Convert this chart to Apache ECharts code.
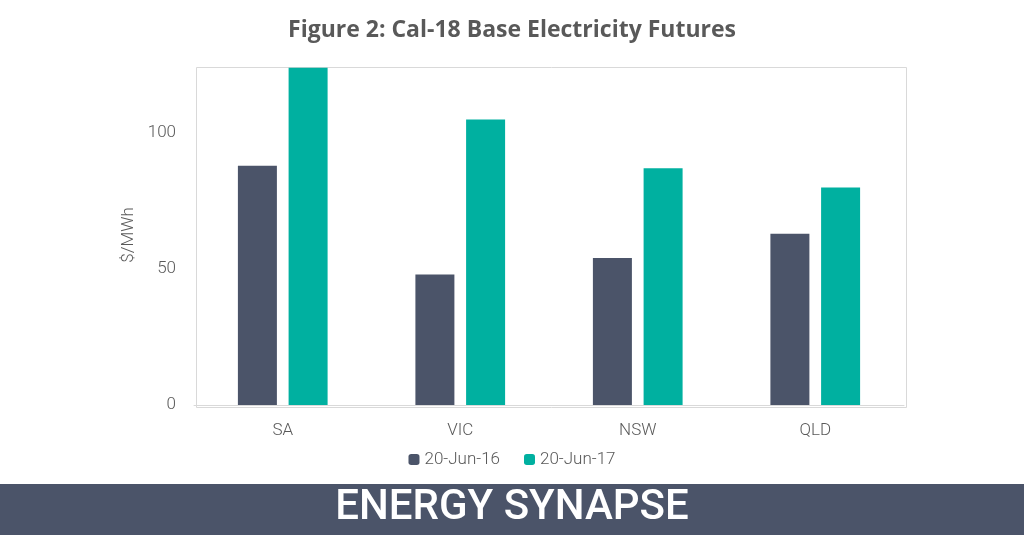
<!DOCTYPE html>
<html><head><meta charset="utf-8">
<script src="https://cdn.jsdelivr.net/npm/echarts@6/dist/echarts.min.js"></script>
<style>html,body{margin:0;padding:0;background:#fff}#c{width:1024px;height:535px}</style>
</head><body><div id="c"></div>
<script>
const categories = ['SA', 'VIC', 'NSW', 'QLD'];
const jun16 = [88, 48, 54, 63];
const jun17 = [124, 105, 87, 80];
const yTicks = [0, 50, 100];

const chart = echarts.init(document.getElementById('c'));
chart.setOption({
    animation: false,
    backgroundColor: '#fff',
    title: {
        text: 'Figure 2: Cal-18 Base Electricity Futures',
        left: 'center', top: 14,
        textStyle: { fontFamily: 'Open Sans', fontWeight: 'bold', fontSize: 23, color: '#595959' }
    },
    graphic: [
        { type: 'rect', left: 0, top: 484, shape: { width: 1024, height: 51 }, style: { fill: '#4b5469' } },
        { type: 'text', left: 'center', top: 487, style: { text: 'ENERGY SYNAPSE', fill: '#fff', font: '500 42px Roboto' } },
        { type: 'rect', left: 194, top: 65, shape: { width: 710, height: 340 }, style: { fill: 'none', stroke: '#d9d9d9', lineWidth: 1 } }
    ],
    legend: {
        bottom: 62, left: 'center', itemWidth: 11, itemHeight: 11, itemGap: 24,
        textStyle: { fontFamily: 'Roboto', fontWeight: 300, fontSize: 17, color: '#595959' },
        data: ['20-Jun-16', '20-Jun-17']
    },
    grid: { left: 194, right: 120, top: 65, bottom: 130 },
    xAxis: {
        type: 'category', data: categories,
        axisLine: { lineStyle: { color: '#d9d9d9' } }, axisTick: { show: false },
        axisLabel: { fontFamily: 'Roboto', fontWeight: 300, fontSize: 17, color: '#595959', margin: 17 }
    },
    yAxis: {
        type: 'value', min: 0, max: 125, interval: 50,
        name: '$/MWh', nameLocation: 'middle', nameGap: 50,
        nameTextStyle: { fontFamily: 'Roboto', fontWeight: 300, fontSize: 17, color: '#595959' },
        splitLine: { show: false },
        axisLabel: { fontFamily: 'Roboto', fontWeight: 300, fontSize: 17, color: '#595959', margin: 18,
            formatter: v => yTicks.includes(v) ? v : '' }
    },
    series: [
        { name: '20-Jun-16', type: 'bar', data: jun16, barWidth: 39, barGap: '30%', itemStyle: { color: '#4b5469' } },
        { name: '20-Jun-17', type: 'bar', data: jun17, barWidth: 39, itemStyle: { color: '#00b0a0' } }
    ]
});
</script></body></html>
